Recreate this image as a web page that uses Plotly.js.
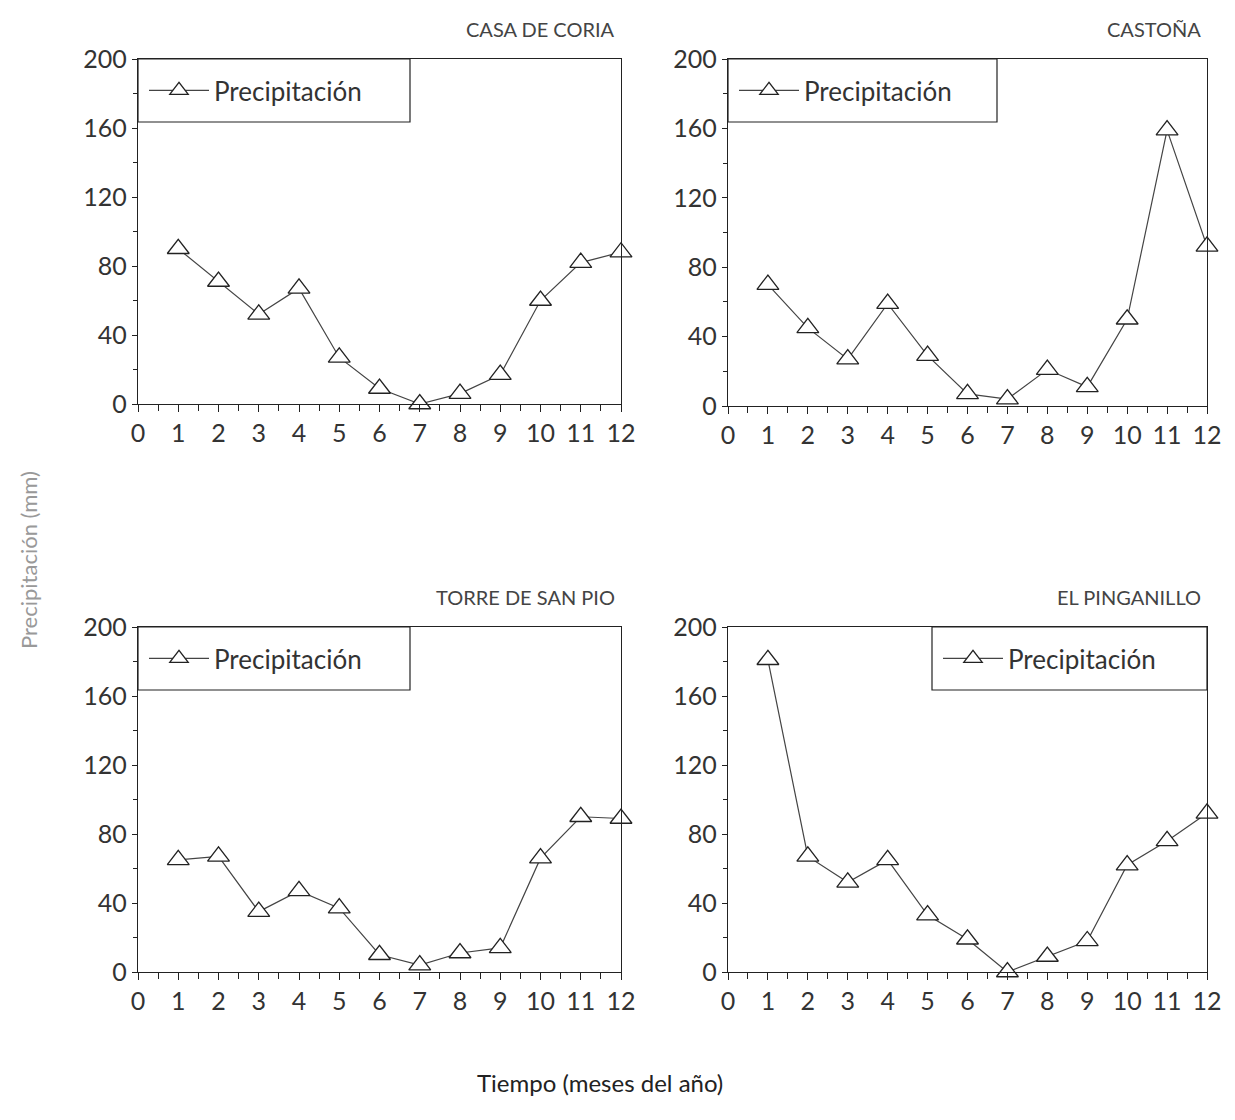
<!DOCTYPE html>
<html>
<head>
<meta charset="utf-8">
<script src="https://cdn.plot.ly/plotly-3.0.1.min.js"></script>
<style>html,body{margin:0;padding:0;background:#fff;}</style>
</head>
<body>
<div id="chart" style="width:1235px;height:1120px;"></div>
<script>
// ---- data ----
const months = [1,2,3,4,5,6,7,8,9,10,11,12];
const stationNames = ["CASA DE CORIA", "CASTOÑA", "TORRE DE SAN PIO", "EL PINGANILLO"];
const casaDeCoria   = [90, 71, 52, 67, 27, 9, 0, 6, 17, 60, 82, 88];
const castona       = [70, 45, 27, 59, 29, 7, 4, 21, 11, 50, 159, 92];
const torreSanPio   = [65, 67, 35, 47, 37, 10, 4, 11, 14, 66, 90, 89];
const elPinganillo  = [181, 67, 52, 65, 33, 19, 0, 9, 18, 62, 76, 92];
const seriesName = "Precipitación";
const xTickVals = [0,1,2,3,4,5,6,7,8,9,10,11,12];
const yTickVals = [0,40,80,120,160,200];
const xTitle = "Tiempo (meses del año)";
const yTitle = "Precipitación (mm)";

const W = 1235, H = 1120;
const FONT = "Lato, 'Open Sans', sans-serif";
const series = [casaDeCoria, castona, torreSanPio, elPinganillo];

// panel pixel boxes [left, right, top, bottom]
const boxes = [[138,621,59,404],[728,1207,59,406],[138,621,627,972],[728,1207,627,972]];
// legend boxes [left,right,top,bottom]
const legBoxes = [[138,410,59,122],[728,997,59,122],[138,410,627,690],[932,1207,627,690]];

const traces = [];
const layout = {
  width: W, height: H,
  margin: {l:0, r:0, t:0, b:0},
  paper_bgcolor: "#fff", plot_bgcolor: "#fff",
  font: {family: FONT, color: "#222"},
  showlegend: true,
  shapes: [], annotations: []
};

for (let i = 0; i < 4; i++) {
  const ax = i === 0 ? "" : String(i+1);
  const b = boxes[i];
  traces.push({
    x: months, y: series[i], name: seriesName,
    type: "scatter", mode: "lines+markers",
    xaxis: "x" + ax, yaxis: "y" + ax,
    legend: "legend" + ax,
    cliponaxis: false,
    line: {color: "#444", width: 1.2},
    marker: {symbol: "triangle-up", size: 19, color: "#fff", line: {color: "#222", width: 1.3}}
  });
  layout["xaxis" + ax] = {
    domain: [b[0]/W, b[1]/W], range: [0, 12], anchor: "y" + ax,
    tickvals: xTickVals, ticks: "outside", ticklen: 7, tickcolor: "#222",
    minor: {dtick: 0.5, tick0: 0, ticks: "outside", ticklen: 6, tickcolor: "#222"},
    showline: true, linecolor: "#222", linewidth: 1.2, mirror: true,
    showgrid: false, zeroline: false,
    tickfont: {size: 25, family: FONT, color: "#333"}
  };
  layout["yaxis" + ax] = {
    domain: [1 - b[3]/H, 1 - b[2]/H], range: [0, 200], anchor: "x" + ax,
    tickvals: yTickVals, ticks: "outside", ticklen: 5, tickcolor: "#222",
    minor: {dtick: 20, ticks: "outside", ticklen: 4, tickcolor: "#222"},
    showline: true, linecolor: "#222", linewidth: 1.2, mirror: true,
    showgrid: false, zeroline: false,
    tickfont: {size: 25, family: FONT, color: "#333"}
  };
  const lb = legBoxes[i];
  layout.shapes.push({
    type: "rect", xref: "paper", yref: "paper",
    x0: lb[0]/W, x1: lb[1]/W, y0: 1 - lb[3]/H, y1: 1 - lb[2]/H,
    line: {color: "#222", width: 1.2}, fillcolor: "rgba(0,0,0,0)", layer: "above"
  });
  layout["legend" + ax] = {
    x: (lb[0] + 6)/W, xanchor: "left",
    y: 1 - ((lb[2] + lb[3]) / 2)/H, yanchor: "middle",
    bgcolor: "rgba(0,0,0,0)", borderwidth: 0,
    itemwidth: 60,
    font: {size: 26, family: FONT, color: "#333"}
  };
  layout.annotations.push({
    text: stationNames[i], xref: "paper", yref: "paper",
    x: (b[1] - 4)/W, y: 1 - (b[2] - 30)/H, xanchor: "right", yanchor: "middle",
    showarrow: false, font: {size: 20, family: FONT, color: "#444"}
  });
}

layout.annotations.push({
  text: xTitle, xref: "paper", yref: "paper",
  x: 600/W, y: 1 - 1082/H, xanchor: "center", yanchor: "middle",
  showarrow: false, font: {size: 24, family: FONT, color: "#222"}
});
layout.annotations.push({
  text: yTitle, xref: "paper", yref: "paper",
  x: 28/W, y: 1 - 560/H, xanchor: "center", yanchor: "middle", textangle: -90,
  showarrow: false, font: {size: 22, family: FONT, color: "#999"}
});

Plotly.newPlot("chart", traces, layout, {displayModeBar: false, staticPlot: true});
</script>
</body>
</html>
